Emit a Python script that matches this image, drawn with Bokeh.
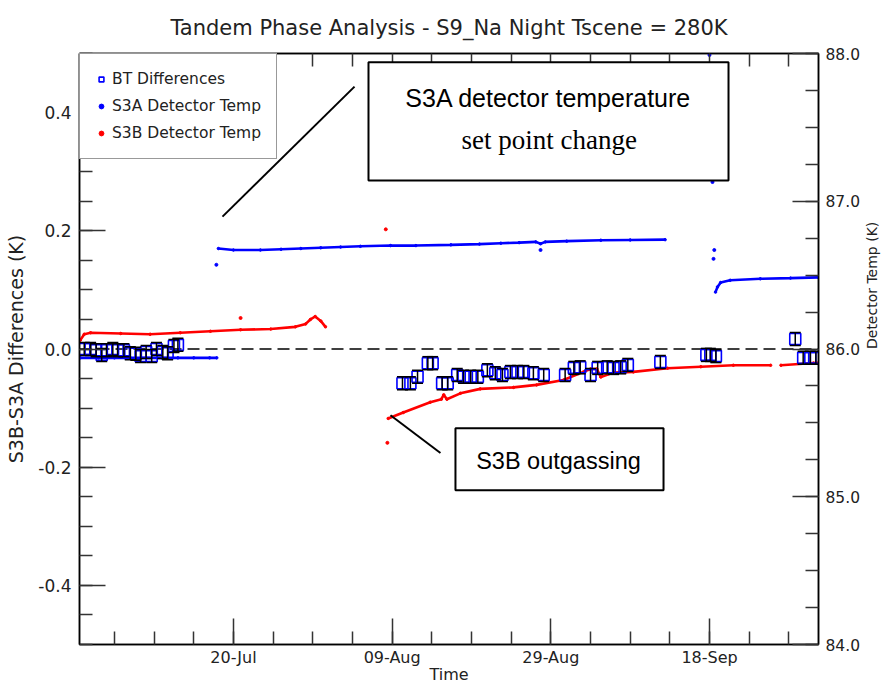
import math
import numpy as np
import pandas as pd
from bokeh.plotting import figure
from bokeh.models import (Range1d, LinearAxis, DatetimeAxis, FixedTicker, PrintfTickFormatter,
                          DatetimeTickFormatter, Span, Whisker, TeeHead, ColumnDataSource,
                          BoxAnnotation, Label, Arrow, Legend, LegendItem)
from bokeh.embed import file_html
from bokeh.resources import INLINE

nan = float("nan")
BASE_DATE = "2018-07-01"   # day 0 of the day arrays
TITLE = "Tandem Phase Analysis - S9_Na Night Tscene = 280K"

# ---- data -----------------------------------------------------------------
# BT differences S3B - S3A (K), days after 1 July
bt_day = [0.2, 1.0, 1.7, 2.4, 3.0, 3.8, 4.4, 5.2, 6.0, 6.7, 7.3, 8.0, 8.7, 9.3, 10.1, 10.7, 11.5, 12.0,
          40.3, 41.3, 42.2, 43.5, 44.1, 45.3, 46.0, 47.2, 48.0, 48.9, 49.8, 51.0, 52.0, 52.9, 53.9, 54.8,
          55.6, 56.8, 58.1, 60.8, 61.9, 62.7, 64.0, 64.9, 66.1, 66.9, 67.8, 68.7, 72.8, 78.6, 79.1, 79.8,
          89.8, 90.8, 91.7, 92.4]
bt_diff = [0.000, 0.000, -0.002, -0.010, -0.002, 0.000, -0.002, -0.002, -0.007, -0.008, -0.012, -0.005,
           -0.012, 0.000, -0.005, -0.007, 0.005, 0.007,
           -0.058, -0.058, -0.047, -0.024, -0.024, -0.058, -0.058, -0.044, -0.047, -0.047, -0.047, -0.036,
           -0.041, -0.044, -0.039, -0.039, -0.039, -0.041, -0.044, -0.044, -0.032, -0.031, -0.044, -0.032,
           -0.031, -0.032, -0.031, -0.027, -0.022, -0.010, -0.010, -0.012,
           0.017, -0.015, -0.015, -0.015]
bt_err = [0.011, 0.011, 0.011, 0.011, 0.011, 0.011, 0.011, 0.011, 0.011, 0.011, 0.011, 0.011,
          0.011, 0.011, 0.011, 0.011, 0.011, 0.011,
          0.011, 0.011, 0.011, 0.011, 0.011, 0.011, 0.011, 0.011, 0.011, 0.011, 0.011, 0.011,
          0.011, 0.011, 0.011, 0.011, 0.011, 0.011, 0.011, 0.011, 0.011, 0.011, 0.011, 0.011,
          0.011, 0.011, 0.011, 0.011, 0.011, 0.011, 0.011, 0.011,
          0.011, 0.011, 0.011, 0.011]

# S3A detector temperature (K); nan breaks the trace
s3a_day = [-0.3, 2.0, 4.0, 6.0, 8.0, 10.0, 12.0, 14.0, 16.0, 16.9, 17.0,
           17.1, 19.0, 22.4, 25.0, 27.5, 30.0, 32.5, 35.0, 38.8, 42.0, 46.4, 50.0, 52.7, 55.0, 57.1,
           57.7, 58.3, 61.0, 65.3, 69.0, 73.4, 76.0,
           79.75, 80.0, 80.4, 81.6, 85.4, 89.2, 92.7]
s3a_temp = [85.94, 85.94, 85.94, 85.94, 85.94, 85.94, 85.94, 85.94, 85.94, 85.94, nan,
            86.68, 86.67, 86.67, 86.675, 86.68, 86.685, 86.69, 86.695, 86.70, 86.70, 86.705, 86.71,
            86.716, 86.72, 86.725, 86.712, 86.725, 86.73, 86.736, 86.738, 86.74, nan,
            86.385, 86.42, 86.45, 86.465, 86.475, 86.48, 86.485]
s3a_out_day = [16.85, 57.7, 78.99, 79.37, 79.5, 79.6]
s3a_out_temp = [86.57, 86.67, 87.99, 87.13, 86.61, 86.67]

# S3B detector temperature (K); nan breaks the trace
s3b_day = [-0.3, 0.2, 1.0, 4.8, 8.5, 12.3, 16.1, 19.9, 23.7, 26.8, 28.1, 28.7, 29.3, 30.0, 30.6, 34.0,
           38.5, 40.4, 43.8, 45.2, 45.5, 45.9, 47.6, 50.1, 54.3, 57.2, 60.6, 63.1, 64.0, 64.8, 65.3,
           66.9, 69.4, 73.7, 77.9, 82.0, 86.7, 87.3, 88.0, 92.1, 92.7]
s3b_temp = [86.06, 86.10, 86.11, 86.105, 86.10, 86.11, 86.12, 86.13, 86.135, 86.15, 86.17, 86.20,
            86.22, 86.19, 86.15, nan,
            85.53, 85.57, 85.64, 85.66, 85.69, 85.66, 85.70, 85.73, 85.74, 85.757, 85.79, 85.845,
            85.865, 85.865, 85.81, 85.84, 85.845, 85.87, 85.88, 85.89, 85.89, nan, 85.89, 85.905, 85.905]
s3b_out_day = [19.9, 38.2, 38.4]
s3b_out_temp = [86.21, 86.81, 85.365]

# axis ticks
x_major_ticks = ["2018-07-20", "2018-08-09", "2018-08-29", "2018-09-18"]
x_minor_ticks = ["2018-06-30", "2018-07-05", "2018-07-10", "2018-07-15", "2018-07-20", "2018-07-25",
                 "2018-07-30", "2018-08-04", "2018-08-09", "2018-08-14", "2018-08-19", "2018-08-24",
                 "2018-08-29", "2018-09-03", "2018-09-08", "2018-09-13", "2018-09-18", "2018-09-23",
                 "2018-09-28", "2018-10-03"]
x_start_day, x_end_day = -0.4, 92.73
y_left_ticks = [-0.4, -0.2, 0.0, 0.2, 0.4]
y_left_minor = [-0.5, -0.45, -0.4, -0.35, -0.3, -0.25, -0.2, -0.15, -0.1, -0.05, 0.0,
                0.05, 0.1, 0.15, 0.2, 0.25, 0.3, 0.35, 0.4, 0.45, 0.5]
y_right_ticks = [84.0, 85.0, 86.0, 87.0, 88.0]
y_right_minor = [84.0, 84.25, 84.5, 84.75, 85.0, 85.25, 85.5, 85.75, 86.0, 86.25, 86.5, 86.75,
                 87.0, 87.25, 87.5, 87.75, 88.0]

# ---- helpers ----------------------------------------------------------------
BASE_MS = pd.Timestamp(BASE_DATE).timestamp() * 1000.0
DAY_MS = 86400000.0


def day_ms(d):
    return BASE_MS + np.asarray(d, dtype=float) * DAY_MS


def date_ms(s):
    return [pd.Timestamp(v).timestamp() * 1000.0 for v in s]


FONT = "DejaVu Sans"
TXT = "#222222"

p = figure(width=891, height=686, output_backend="svg", toolbar_location=None,
           x_axis_type="datetime",
           x_range=Range1d(float(day_ms(x_start_day)), float(day_ms(x_end_day))),
           y_range=Range1d(-0.5, 0.5), title=TITLE,
           min_border_left=79, min_border_right=73, min_border_top=53, min_border_bottom=41)
p.extra_y_ranges = {"temp": Range1d(84.0, 88.0)}

p.title.align = "center"
p.title.text_font = FONT
p.title.text_font_size = "21px"
p.title.text_font_style = "normal"
p.title.text_color = TXT
p.title.vertical_align = "bottom"
p.title.standoff = 27

p.xgrid.visible = False
p.ygrid.visible = False
p.outline_line_color = "black"
p.outline_line_width = 1.5
p.outline_line_alpha = 1.0
p.background_fill_color = "white"
p.border_fill_color = "white"


def style_axis(ax, tick_size="17px", label_size="17px"):
    ax.axis_line_color = "black"
    ax.axis_line_width = 1.5
    ax.major_tick_in = 26
    ax.major_tick_out = 0
    ax.minor_tick_in = 13
    ax.minor_tick_out = 0
    ax.major_tick_line_color = "#333333"
    ax.minor_tick_line_color = "#333333"
    ax.major_tick_line_width = 1.5
    ax.minor_tick_line_width = 1.5
    ax.major_label_text_font = FONT
    ax.major_label_text_font_size = tick_size
    ax.major_label_text_color = TXT
    ax.axis_label_text_font = FONT
    ax.axis_label_text_font_size = label_size
    ax.axis_label_text_font_style = "normal"
    ax.axis_label_text_color = TXT


# bottom axis
xax = p.xaxis[0]
style_axis(xax, "16px", "16px")
xax.ticker = FixedTicker(ticks=date_ms(x_major_ticks), minor_ticks=date_ms(x_minor_ticks))
xax.formatter = DatetimeTickFormatter(days="%d-%b", months="%d-%b", years="%d-%b",
                                      hours="%d-%b", hourmin="%d-%b")
xax.axis_label = "Time"
xax.major_label_standoff = 3
xax.axis_label_standoff = -5

# left axis
yax = p.yaxis[0]
style_axis(yax, "17px", "19px")
yax.ticker = FixedTicker(ticks=y_left_ticks, minor_ticks=y_left_minor)
yax.formatter = PrintfTickFormatter(format="%.1f")
yax.axis_label = "S3B-S3A Differences (K)"
yax.major_label_standoff = 8
yax.axis_label_standoff = 8

# top axis (minor ticks only, no labels)
tax = DatetimeAxis()
style_axis(tax)
tax.ticker = FixedTicker(ticks=[], minor_ticks=date_ms(x_minor_ticks))
tax.major_label_standoff = 0
p.add_layout(tax, "above")

# right axis
rax = LinearAxis(y_range_name="temp")
style_axis(rax, "15.5px", "14px")
rax.ticker = FixedTicker(ticks=y_right_ticks, minor_ticks=y_right_minor)
rax.formatter = PrintfTickFormatter(format="%.1f")
rax.axis_label = "Detector Temp (K)"
rax.major_label_standoff = 7
rax.axis_label_standoff = 9
if "axis_label_orientation" in rax.properties():
    rax.axis_label_orientation = math.pi / 2
p.add_layout(rax, "right")

# zero line
p.add_layout(Span(location=0.0, dimension="width", line_color="black", line_dash="12 6",
                  line_width=1.5, level="underlay"))

# temperatures (right axis)
BLUE = "#0000ff"
RED = "#ff0000"
a_x = day_ms(s3a_day)
b_x = day_ms(s3b_day)
p.line(a_x, s3a_temp, y_range_name="temp", line_color=BLUE, line_width=2.6)
r_a = p.scatter(a_x, s3a_temp, y_range_name="temp", marker="circle", size=2.5,
                line_color=BLUE, fill_color=BLUE)
p.scatter(day_ms(s3a_out_day), s3a_out_temp, y_range_name="temp", marker="circle", size=3,
          line_color=BLUE, fill_color=BLUE)
p.line(b_x, s3b_temp, y_range_name="temp", line_color=RED, line_width=2.6)
r_b = p.scatter(b_x, s3b_temp, y_range_name="temp", marker="circle", size=2.5,
                line_color=RED, fill_color=RED)
p.scatter(day_ms(s3b_out_day), s3b_out_temp, y_range_name="temp", marker="circle", size=3,
          line_color=RED, fill_color=RED)

# BT differences with error bars (left axis)
bt_x = day_ms(bt_day)
bt_src = ColumnDataSource(dict(x=bt_x, y=bt_diff,
                               upper=np.array(bt_diff) + np.array(bt_err),
                               lower=np.array(bt_diff) - np.array(bt_err)))
wh = Whisker(source=bt_src, base="x", upper="upper", lower="lower", line_color="black",
             line_width=1.5, level="glyph",
             upper_head=TeeHead(size=11, line_color="black", line_width=1.5),
             lower_head=TeeHead(size=11, line_color="black", line_width=1.5))
p.add_layout(wh)
r_bt = p.scatter("x", "y", source=bt_src, marker="square", size=11, line_color=BLUE,
                 fill_color=None, line_width=1.6)

# legend
legend = Legend(items=[LegendItem(label="BT Differences", renderers=[r_bt]),
                       LegendItem(label="S3A Detector Temp", renderers=[r_a]),
                       LegendItem(label="S3B Detector Temp", renderers=[r_b])],
                location="top_left", margin=0, padding=15, spacing=7,
                label_height=20, glyph_height=20, glyph_width=12, label_standoff=5,
                border_line_color="#333333", border_line_width=1.5, background_fill_alpha=1.0,
                label_text_font=FONT, label_text_font_size="15.5px", label_text_color=TXT)
p.add_layout(legend)

# annotation boxes, texts and leader lines
p.add_layout(BoxAnnotation(left=float(day_ms(36.02)), right=float(day_ms(81.39)), top=0.485, bottom=0.285,
                           fill_color="white", fill_alpha=1.0, line_color="black", line_width=2,
                           line_alpha=1.0))
p.add_layout(BoxAnnotation(left=float(day_ms(46.98)), right=float(day_ms(73.2)), top=-0.134, bottom=-0.239,
                           fill_color="white", fill_alpha=1.0, line_color="black", line_width=2,
                           line_alpha=1.0))
p.add_layout(Label(x=float(day_ms(58.7)), y=0.425, text="S3A detector temperature",
                   text_align="center", text_baseline="middle", text_font="Liberation Sans",
                   text_font_size="25px", text_color="black"))
p.add_layout(Label(x=float(day_ms(58.8)), y=0.354, text="set point change",
                   text_align="center", text_baseline="middle", text_font="Liberation Serif",
                   text_font_size="27px", text_color="black"))
p.add_layout(Label(x=float(day_ms(59.96)), y=-0.19, text="S3B outgassing",
                   text_align="center", text_baseline="middle", text_font="Liberation Sans",
                   text_font_size="23.5px", text_color="black"))
p.add_layout(Arrow(end=None, x_start=float(day_ms(17.62)), y_start=0.224,
                   x_end=float(day_ms(34.26)), y_end=0.444, line_color="black", line_width=2))
p.add_layout(Arrow(end=None, x_start=float(day_ms(38.79)), y_start=-0.112,
                   x_end=float(day_ms(45.09)), y_end=-0.176, line_color="black", line_width=2))

open("out.html", "w").write(file_html(p, INLINE))
